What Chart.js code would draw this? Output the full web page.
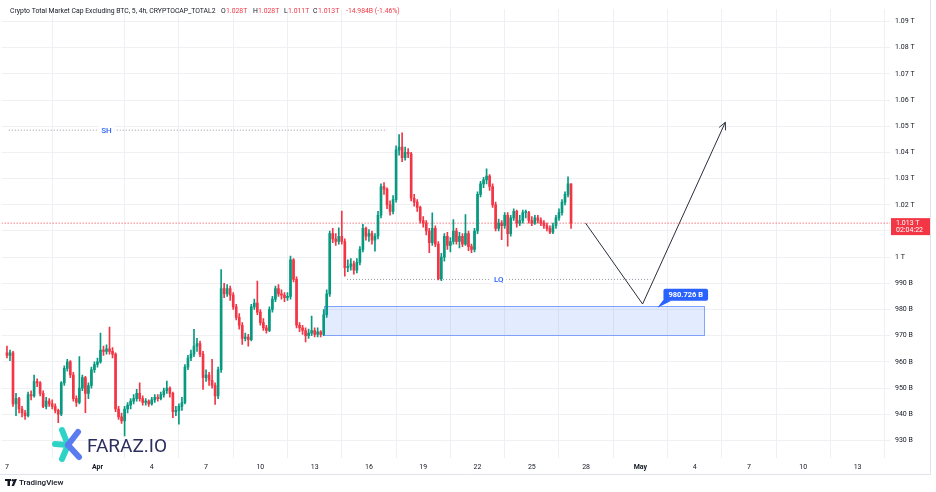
<!DOCTYPE html>
<html>
<head>
<meta charset="utf-8">
<script src="https://cdn.jsdelivr.net/npm/chart.js@4.4.1/dist/chart.umd.min.js"></script>
<style>
  html, body { margin: 0; padding: 0; background: #fff; }
  #wrap { width: 936px; height: 492px; position: relative; }
</style>
</head>
<body>
<div id="wrap"><canvas id="grafico" width="936" height="492"></canvas></div>
<script>
// 4h candles, values in billions (B). first candle = Mar 27 00:00, day 0 = Apr 1
const startDay = -5;
const barsPerDay = 6;

const openV = [
  963.5, 962.5, 963.5, 944, 946, 942, 940.5, 939.5, 947.5, 947,
  952.5, 952, 948, 943, 945, 944, 943, 941.5, 940, 952,
  957.5, 960, 955, 946, 944.5, 950, 954, 948, 951, 957,
  959, 960, 964.5, 964, 965, 964, 963, 942, 939, 937.5,
  942, 943.5, 945, 946, 948, 946, 944.5, 945, 944, 945.5,
  946.5, 946, 947.5, 949, 950, 948, 941, 941.5, 943, 944.5,
  958, 961.5, 963, 966, 967, 963, 954, 955, 953, 951,
  947, 957, 988, 986, 988, 985.5, 981, 977, 974, 969,
  969.5, 968.5, 981, 982.5, 979, 975, 973, 972, 980, 984,
  988, 986, 985.5, 984.5, 985, 999, 991.5, 974, 973, 972,
  970, 971, 972, 970.5, 971.5, 970.5, 978, 986, 1009, 1007,
  1006, 1008, 1006, 996, 996.5, 997.5, 995, 998, 1003, 1011,
  1008, 1009, 1006.5, 1008, 1016, 1027, 1026, 1020, 1017.5, 1022,
  1041, 1042, 1038, 1040, 1039.5, 1022.5, 1021, 1019, 1014, 1013,
  1010, 1005.5, 1011, 1005, 991.8, 1000, 1008, 1004.5, 1006, 1010,
  1006, 1008, 1005, 1009, 1004, 1003, 1010, 1024, 1028, 1029.5,
  1031, 1027, 1020, 1011, 1013, 1012, 1016, 1009, 1015, 1017.5,
  1013, 1014, 1017, 1017, 1014, 1013, 1015, 1014, 1013, 1012,
  1011, 1009.5, 1012, 1015, 1017, 1021, 1024, 1028
];
const highV = [
  966, 964.5, 964, 948, 946.5, 943, 941.5, 948.5, 949, 955,
  953.5, 952.5, 949, 946.5, 946, 945.5, 944, 942, 952.5, 958.5,
  961, 960.5, 956, 947, 962, 955, 954.5, 952, 958, 960,
  961.5, 971, 966, 966.5, 973.3, 965.5, 963.5, 943, 940.5, 943,
  944.5, 946, 947.5, 949.5, 952, 947, 946, 945.5, 946.5, 947.5,
  947.5, 948.5, 950, 952.7, 950.5, 948.5, 943, 944, 946.5, 959,
  962.5, 964.5, 972.4, 969, 968, 964, 957, 956, 961, 952,
  958, 995.3, 990, 989.5, 989, 986.5, 982, 978.5, 975, 971,
  970.5, 982, 984, 990.9, 980, 976.5, 974, 981, 985, 989,
  989.5, 987.5, 986.5, 986.5, 1000.4, 999.5, 992.5, 975, 974, 973,
  972.5, 977.5, 973, 973, 972, 980, 987.5, 1010, 1011, 1009,
  1011.2, 1017.6, 1007, 999, 999.5, 998.5, 999.5, 1004, 1012.5, 1011.5,
  1010.5, 1010, 1009, 1017.5, 1028, 1028.5, 1026.5, 1021.5, 1023.5, 1042.5,
  1046.8, 1047.5, 1042, 1041.5, 1040, 1024, 1022, 1019.5, 1015.5, 1014,
  1011, 1016.9, 1012, 1006, 1001.5, 1009, 1009.5, 1007.5, 1014.4, 1011,
  1009.5, 1009, 1016.3, 1010, 1005, 1011, 1025, 1029, 1030.5, 1033.7,
  1031.5, 1028, 1021, 1014.5, 1014, 1017, 1017, 1016, 1018.5, 1018,
  1016, 1018, 1018, 1017.5, 1015.5, 1016, 1016, 1015, 1014, 1013,
  1012, 1013, 1016, 1018.5, 1022, 1025, 1030.7, 1028
];
const lowV = [
  961.5, 960.5, 943, 939.5, 940.5, 939, 938, 939, 945.5, 946.5,
  950.5, 947, 942.5, 942, 943, 942, 940.5, 936.8, 939.5, 951,
  956.5, 954, 945, 943, 944, 949, 940.6, 946, 950, 956,
  958, 959.5, 962.5, 963, 963, 961.5, 941, 938, 936.5, 931.7,
  940.5, 942, 944, 945, 945, 943.5, 943.5, 943, 943.5, 944.5,
  945, 945.5, 946.5, 948, 946.5, 938.7, 939.5, 936.2, 941.5, 944,
  957, 960.5, 962, 964, 962, 949.5, 952.5, 951, 950, 943.8,
  946, 956, 984.5, 985, 983.5, 980, 976, 972.5, 966.7, 968,
  966, 968, 980, 978, 974, 972, 971, 971.5, 979, 983,
  985, 984, 983, 983.5, 984, 990.5, 973, 971.5, 970.5, 967.6,
  969, 970, 969.5, 969.5, 969.5, 970, 977, 985, 1005.5, 1004.5,
  1005, 1005, 992.7, 994.5, 995, 993.5, 994, 997, 1002, 1006.5,
  1006, 1005, 1002.3, 1007, 1015, 1024, 1018.5, 1016, 1016.5, 1021,
  1039, 1036.5, 1037, 1038, 1021.5, 1019.5, 1017.5, 1013, 1011.5, 1008.5,
  1001.7, 1004.5, 1004, 991.3, 991, 998.5, 1003, 1002, 1005, 1005,
  1003.5, 1004, 1004.5, 1002.5, 1001.7, 1002, 1009, 1023, 1026.5, 1028,
  1025.5, 1019, 1010, 1010, 1006.7, 1011, 1004.2, 1008, 1014, 1011.5,
  1012, 1013, 1015, 1013, 1012, 1012.5, 1013, 1012, 1011, 1010,
  1009, 1009, 1011, 1014, 1016, 1020, 1023, 1011
];
const closeV = [
  962.5, 963.5, 944, 946, 942, 940.5, 939.5, 947.5, 947, 952.5,
  952, 948, 943, 945, 944, 943, 941.5, 940, 952, 957.5,
  960, 955, 946, 944.5, 950, 954, 948, 951, 957, 959,
  960, 964.5, 964, 965, 964, 963, 942, 939, 937.5, 942,
  943.5, 945, 946, 948, 946, 944.5, 945, 944, 945.5, 946.5,
  946, 947.5, 949, 950, 948, 941, 941.5, 943, 944.5, 958,
  961.5, 963, 966, 967, 963, 954, 955, 953, 951, 947,
  957, 988, 986, 988, 985.5, 981, 977, 974, 969, 969.5,
  968.5, 981, 982.5, 979, 975, 973, 972, 980, 984, 988,
  986, 985.5, 984.5, 985, 999, 991.5, 974, 973, 972, 970,
  971, 972, 970.5, 971.5, 970.5, 978, 986, 1009, 1007, 1006,
  1008, 1006, 996, 996.5, 997.5, 995, 998, 1003, 1011, 1008,
  1009, 1006.5, 1008, 1016, 1027, 1026, 1020, 1017.5, 1022, 1041,
  1042, 1038, 1040, 1039.5, 1022.5, 1021, 1019, 1014, 1013, 1010,
  1005.5, 1011, 1005, 991.8, 1000, 1008, 1004.5, 1006, 1010, 1006,
  1008, 1005, 1009, 1004, 1003, 1010, 1024, 1028, 1029.5, 1031,
  1027, 1020, 1011, 1013, 1012, 1016, 1009, 1015, 1017.5, 1013,
  1014, 1017, 1017, 1014, 1013, 1015, 1014, 1013, 1012, 1011,
  1009.5, 1012, 1015, 1017, 1021, 1024, 1028, 1013
];

// axes
const xMin = -5.295, xMax = 43.79;
const xTickDays = [-5, 0, 3, 6, 9, 12, 15, 18, 21, 24, 27, 30, 33, 36, 39, 42];
const xTickLabels = ['7', 'Apr', '4', '7', '10', '13', '16', '19', '22', '25', '28', 'May', '4', '7', '10', '13'];
const yMin = 923.3, yMax = 1094.7;
const yTickValues = [930, 940, 950, 960, 970, 980, 990, 1000, 1010, 1020, 1030, 1040, 1050, 1060, 1070, 1080, 1090];
const yTickLabels = ['930 B', '940 B', '950 B', '960 B', '970 B', '980 B', '990 B', '1 T', '1.01 T', '1.02 T', '1.03 T', '1.04 T', '1.05 T', '1.06 T', '1.07 T', '1.08 T', '1.09 T'];

// drawings
const shDays = [-4.9, 16.0], shValue = 1048.5, shLabelDay = 0.5;
const lqDays = [13.79, 30.56], lqValue = 991.5, lqLabelDay = 22.17;
const zoneDays = [12.52, 33.54], zoneValues = [970.2, 981.3];
const pathDays = [26.97, 30.12, 34.69], pathValues = [1013, 982.1, 1051.5];
const tagDay = 30.94, tagValue = 980.726, tagText = '980.726 B';
const lastValue = 1013, lastText = '1.013 T', timerText = '02:04:22';

const upColor = '#089981';
const downColor = '#f23645';
const fonte = 'Roboto, sans-serif';

const candleTimes = closeV.map((c, i) => startDay + i / barsPerDay);
function candleColor(i) {
  return closeV[i] >= openV[i] ? upColor : downColor;
}

const overlay = {
  id: 'overlay',
  beforeDatasetsDraw(chart) {
    const ctx = chart.ctx, x = chart.scales.x, y = chart.scales.y;
    const x1 = x.getPixelForValue(zoneDays[0]), x2 = x.getPixelForValue(zoneDays[1]);
    const y1 = y.getPixelForValue(zoneValues[1]), y2 = y.getPixelForValue(zoneValues[0]);
    ctx.save();
    ctx.fillStyle = 'rgba(41,98,255,0.13)';
    ctx.fillRect(x1, y1, x2 - x1, y2 - y1);
    ctx.strokeStyle = 'rgba(41,98,255,0.55)';
    ctx.lineWidth = 1;
    ctx.strokeRect(Math.round(x1) + 0.5, Math.round(y1) + 0.5, Math.round(x2 - x1), Math.round(y2 - y1));
    ctx.restore();
  },
  afterDraw(chart) {
    const ctx = chart.ctx, x = chart.scales.x, y = chart.scales.y;
    ctx.save();

    // arrow head at the end of the projection
    const n = pathDays.length;
    const ax = x.getPixelForValue(pathDays[n - 1]), ay = y.getPixelForValue(pathValues[n - 1]);
    const bx = x.getPixelForValue(pathDays[n - 2]), by = y.getPixelForValue(pathValues[n - 2]);
    const ang = Math.atan2(ay - by, ax - bx);
    ctx.strokeStyle = '#2a2e39';
    ctx.lineWidth = 1;
    ctx.beginPath();
    ctx.moveTo(ax - 8 * Math.cos(ang - 0.45), ay - 8 * Math.sin(ang - 0.45));
    ctx.lineTo(ax, ay);
    ctx.lineTo(ax - 8 * Math.cos(ang + 0.45), ay - 8 * Math.sin(ang + 0.45));
    ctx.stroke();

    // SH / LQ labels
    ctx.font = '500 8px ' + fonte;
    ctx.textAlign = 'center';
    ctx.textBaseline = 'middle';
    [[shLabelDay, shValue, 'SH'], [lqLabelDay, lqValue, 'LQ']].forEach(l => {
      const px = x.getPixelForValue(l[0]), py = y.getPixelForValue(l[1]);
      const w = ctx.measureText(l[2]).width + 6;
      ctx.fillStyle = '#fff';
      ctx.fillRect(px - w / 2, py - 4, w, 8);
      ctx.fillStyle = '#2962ff';
      ctx.fillText(l[2], px, py + 0.5);
    });

    // price tag
    const tx = x.getPixelForValue(tagDay), ty = y.getPixelForValue(tagValue);
    ctx.font = 'bold 7.5px ' + fonte;
    const tw = ctx.measureText(tagText).width + 10;
    const boxX = tx + 6, boxY = ty - 19, boxH = 12;
    ctx.fillStyle = '#2962ff';
    ctx.beginPath();
    ctx.roundRect(boxX, boxY, tw, boxH, 2);
    ctx.fill();
    ctx.beginPath();
    ctx.moveTo(tx, ty);
    ctx.lineTo(boxX, boxY + boxH - 1);
    ctx.lineTo(boxX + 8, boxY + boxH);
    ctx.closePath();
    ctx.fill();
    ctx.fillStyle = '#fff';
    ctx.fillText(tagText, boxX + tw / 2, boxY + boxH / 2 + 0.5);

    // last price on the axis
    const ly = y.getPixelForValue(lastValue);
    ctx.fillStyle = downColor;
    ctx.fillRect(891, ly - 5, 40, 17);
    ctx.fillStyle = '#fff';
    ctx.font = '7px ' + fonte;
    ctx.textAlign = 'left';
    ctx.fillText(lastText, 896, ly);
    ctx.fillText(timerText, 896, ly + 7.5);

    // frame
    ctx.strokeStyle = '#e0e3eb';
    ctx.lineWidth = 1;
    ctx.beginPath();
    ctx.moveTo(930.5, 0);
    ctx.lineTo(930.5, 474.5);
    ctx.lineTo(0, 474.5);
    ctx.stroke();

    // header (title squeezed to the reference width)
    ctx.textBaseline = 'middle';
    const titulo = 'Crypto Total Market Cap Excluding BTC, 5, 4h, CRYPTOCAP_TOTAL2';
    ctx.font = '7px ' + fonte;
    const tam = 7 * 206 / ctx.measureText(titulo).width;
    ctx.font = tam.toFixed(2) + 'px ' + fonte;
    const partes = [
      [titulo, '#131722', 10],
      ['O', '#131722', 221], ['1.028T', downColor, 226],
      ['H', '#131722', 253], ['1.028T', downColor, 258],
      ['L', '#131722', 284], ['1.011T', downColor, 288],
      ['C', '#131722', 313], ['1.013T', downColor, 318],
      ['-14.984B (-1.46%)', downColor, 346]
    ];
    partes.forEach(p => {
      ctx.fillStyle = p[1];
      ctx.fillText(p[0], p[2], 11);
    });

    // footer
    ctx.fillStyle = '#131722';
    ctx.fillRect(5, 479, 6, 2);
    ctx.fillRect(7.5, 479, 2.5, 7);
    ctx.beginPath();
    ctx.arc(12.8, 480.2, 1.2, 0, Math.PI * 2);
    ctx.fill();
    ctx.beginPath();
    ctx.moveTo(14.5, 479);
    ctx.lineTo(17, 479);
    ctx.lineTo(14, 486);
    ctx.lineTo(11.5, 486);
    ctx.closePath();
    ctx.fill();
    ctx.font = '500 8px ' + fonte;
    ctx.fillText('TradingView', 19, 482.5);

    // watermark
    ctx.lineCap = 'round';
    ctx.lineWidth = 6;
    const cx = 68, cy = 445;
    [[62, 430, '#2fd3c6'], [55, 444, '#2fd3c6'], [62, 459, '#2fd3c6'], [78, 432, '#5b7cf0'], [79, 457, '#5b7cf0']].forEach(a => {
      ctx.strokeStyle = a[2];
      ctx.beginPath();
      ctx.moveTo(cx, cy);
      ctx.lineTo(a[0], a[1]);
      ctx.stroke();
    });
    ctx.fillStyle = '#2c2f5e';
    ctx.font = '19px ' + fonte;
    ctx.textBaseline = 'alphabetic';
    ctx.fillText('FARAZ.IO', 87, 452);

    ctx.restore();
  }
};

const chart = new Chart(document.getElementById('grafico'), {
  type: 'bar',
  data: {
    datasets: [
      {
        label: 'wick',
        data: candleTimes.map((t, i) => ({ x: t, y: [lowV[i], highV[i]] })),
        backgroundColor: c => candleColor(c.dataIndex),
        barThickness: 1,
        grouped: false,
        order: 1
      },
      {
        label: 'body',
        data: candleTimes.map((t, i) => ({ x: t, y: [openV[i], closeV[i]] })),
        backgroundColor: c => candleColor(c.dataIndex),
        barThickness: 2,
        minBarLength: 1,
        grouped: false,
        order: 0
      },
      {
        type: 'line',
        data: [{ x: xMin, y: lastValue }, { x: xMax, y: lastValue }],
        borderColor: downColor,
        borderWidth: 1,
        borderDash: [1, 2],
        pointRadius: 0,
        order: 5
      },
      {
        type: 'line',
        data: shDays.map(d => ({ x: d, y: shValue })),
        borderColor: '#9598a1',
        borderWidth: 1,
        borderDash: [1, 2],
        pointRadius: 0,
        order: 4
      },
      {
        type: 'line',
        data: lqDays.map(d => ({ x: d, y: lqValue })),
        borderColor: '#9598a1',
        borderWidth: 1,
        borderDash: [1, 2],
        pointRadius: 0,
        order: 4
      },
      {
        type: 'line',
        data: pathDays.map((d, i) => ({ x: d, y: pathValues[i] })),
        borderColor: '#2a2e39',
        borderWidth: 1,
        pointRadius: 0,
        tension: 0,
        order: 2
      }
    ]
  },
  options: {
    responsive: false,
    animation: false,
    devicePixelRatio: 1,
    layout: { padding: { left: 0, right: 0, top: 0, bottom: 16 } },
    plugins: { legend: { display: false }, tooltip: { enabled: false } },
    scales: {
      x: {
        type: 'linear',
        min: xMin,
        max: xMax,
        offset: false,
        grid: { color: '#eef0f4', drawTicks: false },
        border: { display: false },
        afterBuildTicks: s => { s.ticks = xTickDays.map(v => ({ value: v })); },
        afterFit: s => { s.height = 18; },
        ticks: {
          autoSkip: false,
          maxRotation: 0,
          padding: 5,
          color: '#131722',
          font: c => ({ family: fonte, size: 7, weight: (xTickLabels[c.index] === 'Apr' || xTickLabels[c.index] === 'May') ? 'bold' : 'normal' }),
          callback: (v, i) => xTickLabels[i]
        }
      },
      y: {
        type: 'linear',
        position: 'right',
        min: yMin,
        max: yMax,
        grid: { color: '#eef0f4', drawTicks: false },
        border: { display: false },
        afterBuildTicks: s => { s.ticks = yTickValues.map(v => ({ value: v })); },
        afterFit: s => { s.width = 46; },
        ticks: {
          padding: 5,
          color: '#131722',
          font: { family: fonte, size: 7 },
          callback: (v, i) => yTickLabels[i]
        }
      }
    }
  },
  plugins: [overlay]
});
</script>
</body>
</html>
